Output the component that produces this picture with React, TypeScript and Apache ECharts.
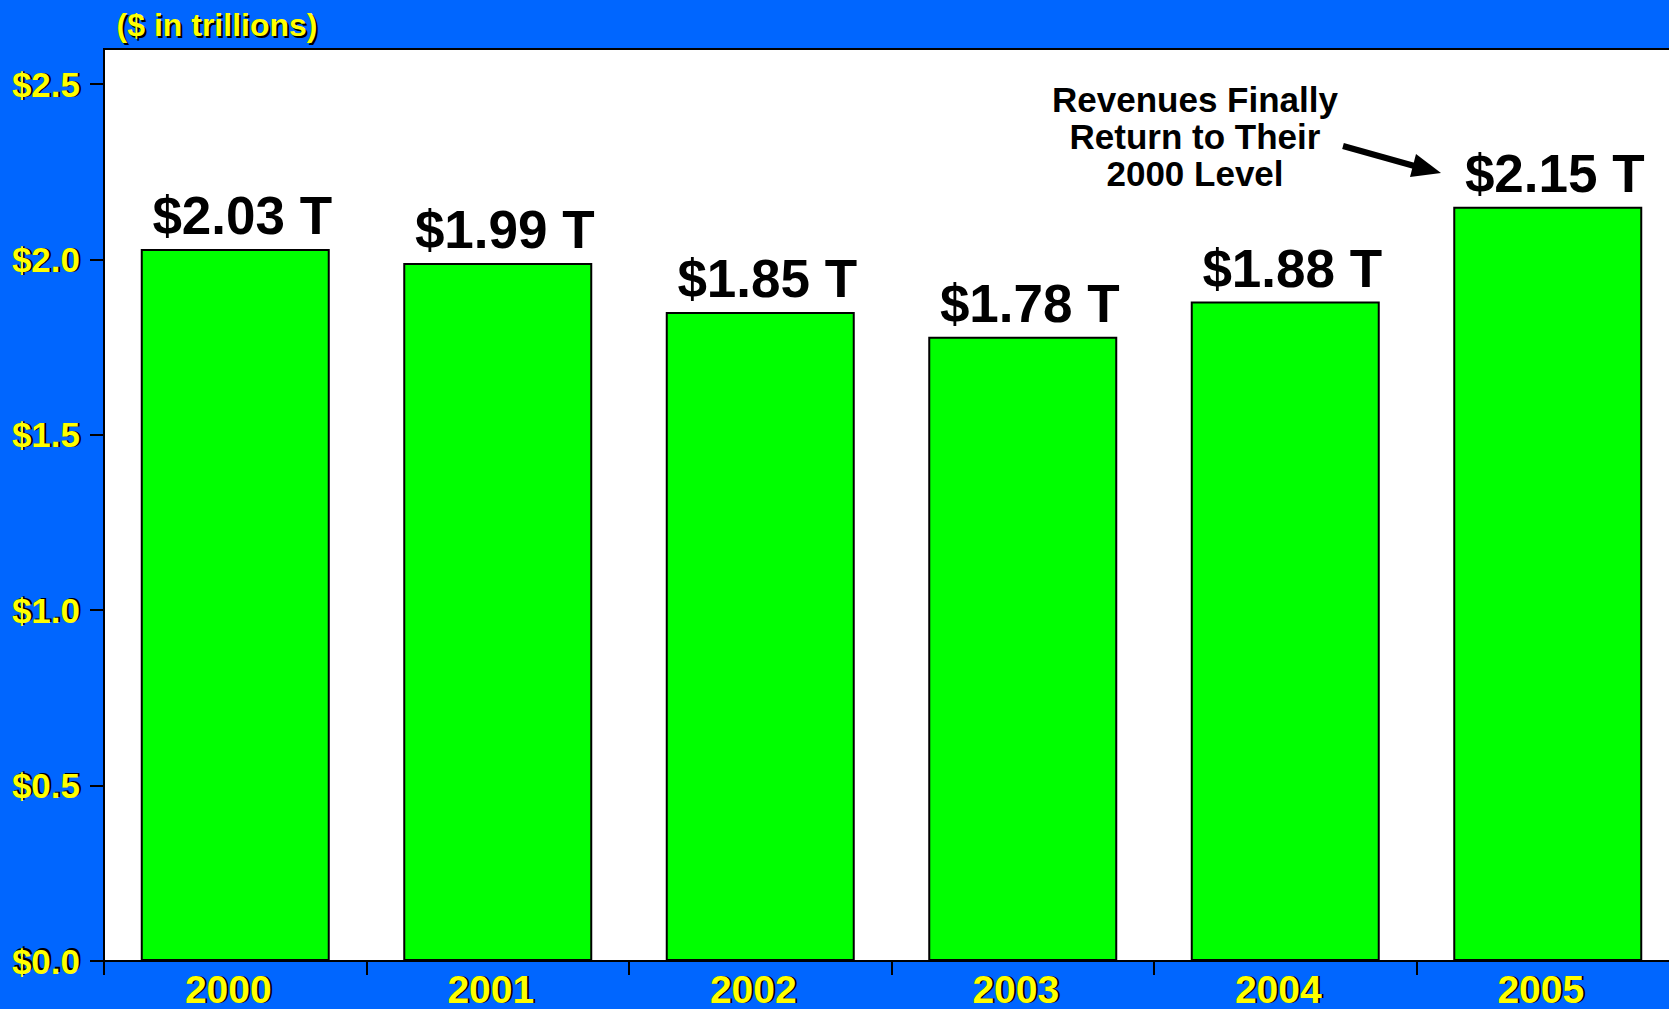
import React, { useEffect, useRef } from "react";
import * as echarts from "echarts";

const categories = ["2000", "2001", "2002", "2003", "2004", "2005"];
const revenues = [2.03, 1.99, 1.85, 1.78, 1.88, 2.15];
const yTicks = [0, 0.5, 1.0, 1.5, 2.0, 2.5];
const unitTitle = "($ in trillions)";
const annotation = ["Revenues Finally", "Return to Their", "2000 Level"];

const FONT = "'Liberation Sans', Arial, Helvetica, sans-serif";
const BLUE = "#0066FF";
const YELLOW = "#FFFF00";
const GREEN = "#00FF00";

export default function App() {
  const ref = useRef<HTMLDivElement>(null);
  useEffect(() => {
    if (!ref.current) return;
    const chart = echarts.init(ref.current, null, { renderer: "svg" });
    const gridLayout = { left: 104, top: 49, right: 0, bottom: 48 };
    const yFmt = (v: number) => "$" + v.toFixed(1);
    const xLabelBase = {
      fontFamily: FONT,
      fontWeight: "bold",
      fontSize: 39,
      lineHeight: 32,
    };
    const yLabelBase = {
      fontFamily: FONT,
      fontWeight: "bold",
      fontSize: 35,
      customValues: yTicks,
      formatter: yFmt,
    };
    const option: any = {
      animation: false,
      backgroundColor: BLUE,
      grid: [
        {
          ...gridLayout,
          show: true,
          backgroundColor: "#FFFFFF",
          borderColor: "#000000",
          borderWidth: 2,
        },
        { ...gridLayout, show: false },
      ],
      xAxis: [
        {
          type: "category",
          gridIndex: 0,
          data: categories,
          z: 3,
          axisLine: { show: true, lineStyle: { color: "#000000", width: 2 } },
          axisTick: {
            show: true,
            length: 14,
            lineStyle: { color: "#000000", width: 2 },
          },
          axisLabel: {
            ...xLabelBase,
            color: YELLOW,
            margin: 12,
            padding: [0, 14, 0, 0],
          },
        },
        {
          type: "category",
          gridIndex: 1,
          data: categories,
          z: 0,
          axisLine: { show: false },
          axisTick: { show: false },
          axisLabel: {
            ...xLabelBase,
            color: "#000000",
            margin: 14,
            padding: [0, 10, 0, 0],
          },
        },
      ],
      yAxis: [
        {
          type: "value",
          gridIndex: 0,
          min: 0,
          max: 2.6,
          interval: 0.5,
          z: 3,
          splitLine: { show: false },
          axisLine: { show: true, lineStyle: { color: "#000000", width: 2 } },
          axisTick: {
            show: true,
            length: 14,
            customValues: yTicks,
            lineStyle: { color: "#000000", width: 2 },
          },
          axisLabel: { ...yLabelBase, color: YELLOW, margin: 24 },
        },
        {
          type: "value",
          gridIndex: 1,
          min: 0,
          max: 2.6,
          interval: 0.5,
          z: 0,
          splitLine: { show: false },
          axisLine: { show: false },
          axisTick: { show: false },
          axisLabel: {
            ...yLabelBase,
            color: "#000000",
            margin: 22,
            padding: [4, 0, 0, 0],
          },
        },
      ],
      series: [
        {
          type: "bar",
          xAxisIndex: 0,
          yAxisIndex: 0,
          data: revenues,
          barWidth: "72%",
          itemStyle: { color: GREEN, borderColor: "#000000", borderWidth: 2 },
          label: {
            show: true,
            position: "top",
            distance: 7,
            offset: [7, 0],
            color: "#000000",
            fontFamily: FONT,
            fontWeight: "bold",
            fontSize: 53,
            formatter: (p: any) => "$" + Number(p.value).toFixed(2) + " T",
          },
        },
      ],
      graphic: [
        {
          type: "text",
          x: 219,
          y: 27,
          style: {
            text: unitTitle,
            fill: "#000000",
            font: `bold 32px ${FONT}`,
            textAlign: "center",
            textVerticalAlign: "middle",
          },
        },
        {
          type: "text",
          x: 217,
          y: 25,
          style: {
            text: unitTitle,
            fill: YELLOW,
            font: `bold 32px ${FONT}`,
            textAlign: "center",
            textVerticalAlign: "middle",
          },
        },
        {
          type: "text",
          x: 1195,
          y: 136,
          style: {
            text: annotation.join("\n"),
            fill: "#000000",
            font: `bold 35px ${FONT}`,
            lineHeight: 37,
            textAlign: "center",
            textVerticalAlign: "middle",
          },
        },
        {
          type: "line",
          shape: { x1: 1343, y1: 146, x2: 1418, y2: 167 },
          style: { stroke: "#000000", lineWidth: 6 },
        },
        {
          type: "polygon",
          shape: {
            points: [
              [1441, 173],
              [1416, 154],
              [1410, 177],
            ],
          },
          style: { fill: "#000000" },
        },
      ],
    };
    chart.setOption(option);
    return () => chart.dispose();
  }, []);
  return (
    <div
      style={{
        position: "absolute",
        left: 0,
        top: 0,
        width: 1669,
        height: 1009,
        overflow: "hidden",
        background: BLUE,
      }}
    >
      <div ref={ref} style={{ width: 1679, height: 1009 }} />
    </div>
  );
}
